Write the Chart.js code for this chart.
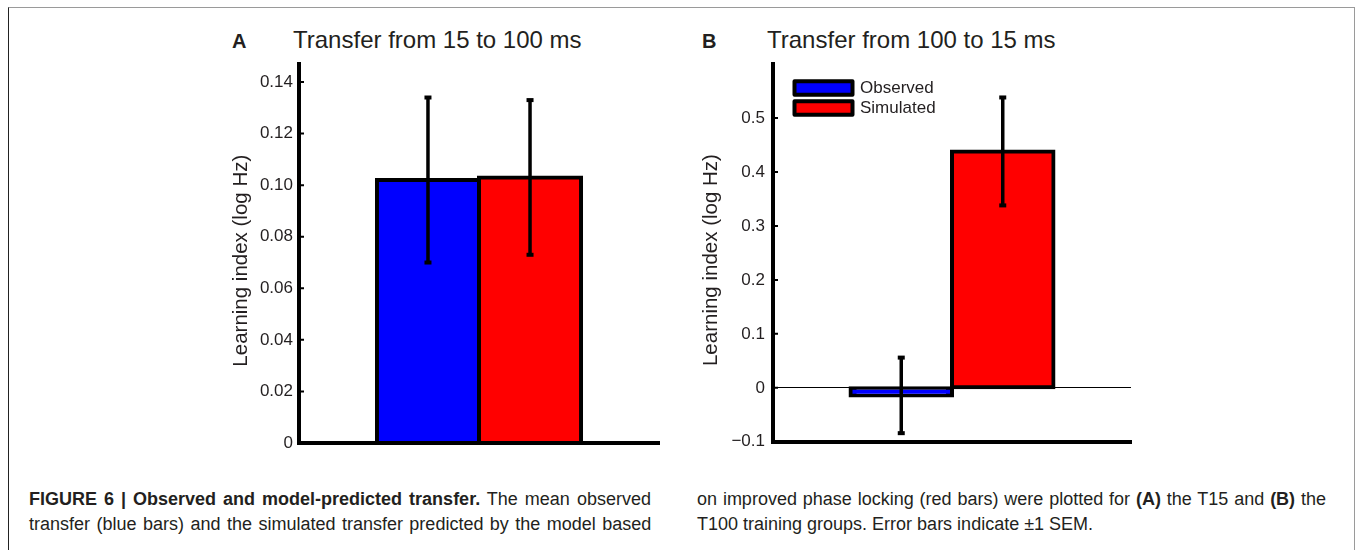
<!DOCTYPE html>
<html>
<head>
<meta charset="utf-8">
<script src="https://cdn.jsdelivr.net/npm/chart.js@4"></script>
<style>
  html, body { margin: 0; padding: 0; background: #fff; }
  body { width: 1355px; height: 550px; position: relative; overflow: hidden;
         font-family: 'Liberation Sans', Arial, sans-serif; color: #231f20; }
  .frame { position: absolute; left: 8px; top: 7px; width: 1345px; height: 600px;
           border-top: 1px solid #9a9a9a; border-right: 1px solid #9a9a9a; border-left: 1px solid #222; }
  .panel { position: absolute; top: 0; }
  .letter { position: absolute; font-weight: bold; font-size: 20px; line-height: 1; }
  .ptitle { position: absolute; font-size: 24px; line-height: 1; white-space: nowrap; }
  .cap { position: absolute; font-size: 18px; line-height: 1; white-space: nowrap; }
</style>
</head>
<body>
<div class="frame"></div>

<div class="letter" style="left:232px; top:31px;">A</div>
<div class="ptitle" style="left:293px; top:28px;">Transfer from 15 to 100 ms</div>
<div class="letter" style="left:702px; top:31px;">B</div>
<div class="ptitle" style="left:767px; top:28px;">Transfer from 100 to 15 ms</div>

<canvas id="chartA" class="panel" style="left:0px;" width="680" height="460"></canvas>
<canvas id="chartB" class="panel" style="left:680px;" width="675" height="460"></canvas>

<div class="cap" data-w="622" style="left:29px; top:490px;"><b>FIGURE 6 | Observed and model-predicted transfer.</b> The mean observed</div>
<div class="cap" data-w="622" style="left:29px; top:515px;">transfer (blue bars) and the simulated transfer predicted by the model based</div>
<div class="cap" data-w="629" style="left:697px; top:490px;">on improved phase locking (red bars) were plotted for <b>(A)</b> the T15 and <b>(B)</b> the</div>
<div class="cap" style="left:697px; top:515px;">T100 training groups. Error bars indicate ±1 SEM.</div>

<script>
// data
const categories = ['Transfer'];
const seriesNames = ['Observed', 'Simulated'];
const seriesColors = ['#0000ff', '#ff0000'];

const meanA = [0.102, 0.103];
const semA = [0.032, 0.030];
const meanB = [-0.014, 0.438];
const semB = [0.070, 0.100];

const ticksA = [0, 0.02, 0.04, 0.06, 0.08, 0.10, 0.12, 0.14];
const tickLabelsA = ['0', '0.02', '0.04', '0.06', '0.08', '0.10', '0.12', '0.14'];
const ticksB = [-0.1, 0, 0.1, 0.2, 0.3, 0.4, 0.5];
const tickLabelsB = ['\u22120.1', '0', '0.1', '0.2', '0.3', '0.4', '0.5'];

const rangeA = [0, 0.147];
const rangeB = [-0.1, 0.6];

Chart.defaults.font.family = "'Liberation Sans', Arial, sans-serif";
Chart.defaults.color = '#231f20';

// +-1 SEM whiskers with small square caps
const errorBars = {
    id: 'errorBars',
    afterDatasetsDraw(chart, args, opts) {
        const ctx = chart.ctx;
        const y = chart.scales.y;
        ctx.save();
        ctx.strokeStyle = '#000';
        ctx.fillStyle = '#000';
        ctx.lineWidth = 3.5;
        opts.sem.forEach((e, i) => {
            const bar = chart.getDatasetMeta(i).data[0];
            const m = chart.data.datasets[i].data[0];
            const top = y.getPixelForValue(m + e);
            const bot = y.getPixelForValue(m - e);
            ctx.beginPath();
            ctx.moveTo(bar.x, top);
            ctx.lineTo(bar.x, bot);
            ctx.stroke();
            ctx.fillRect(bar.x - 3.5, top - 2, 7, 4);
            ctx.fillRect(bar.x - 3.5, bot - 2, 7, 4);
        });
        ctx.restore();
    }
};

// matlab style ticks pointing into the axes
const innerTicks = {
    id: 'innerTicks',
    afterDraw(chart) {
        const ctx = chart.ctx;
        const y = chart.scales.y;
        const x0 = chart.chartArea.left;
        ctx.save();
        ctx.strokeStyle = '#000';
        ctx.lineWidth = 2;
        ctx.beginPath();
        y.ticks.forEach(t => {
            const py = y.getPixelForValue(t.value);
            ctx.moveTo(x0, py);
            ctx.lineTo(x0 + 5, py);
        });
        ctx.stroke();
        ctx.restore();
    }
};

// stacked legend boxes in the top left of the axes
const boxLegend = {
    id: 'boxLegend',
    afterDraw(chart, args, opts) {
        if (!opts.display) return;
        const ctx = chart.ctx;
        const area = chart.chartArea;
        ctx.save();
        chart.data.datasets.forEach((ds, i) => {
            const bx = area.left + 21.5;
            const by = area.top + 17.3 + i * 20;
            ctx.lineJoin = 'round';
            ctx.lineWidth = 4;
            ctx.strokeStyle = '#000';
            ctx.fillStyle = ds.backgroundColor;
            ctx.beginPath();
            ctx.rect(bx, by, 58, 13.5);
            ctx.fill();
            ctx.stroke();
            ctx.fillStyle = '#231f20';
            ctx.font = "17px 'Liberation Sans', Arial, sans-serif";
            ctx.textBaseline = 'middle';
            ctx.fillText(ds.label, area.left + 87, by + 7);
        });
        ctx.restore();
    }
};

function makeChart(id, means, sems, range, ticks, labels, padLeft, axisW, padRight, tickPad, showLegend) {
    const hasNeg = range[0] < 0;
    return new Chart(document.getElementById(id), {
        type: 'bar',
        data: {
            labels: categories,
            datasets: seriesNames.map((name, i) => ({
                label: name,
                data: [means[i]],
                backgroundColor: seriesColors[i],
                borderColor: '#000',
                borderWidth: 4,
                borderSkipped: false,
                inflateAmount: 2
            }))
        },
        options: {
            responsive: false,
            animation: false,
            events: [],
            layout: { padding: { left: padLeft, right: padRight, top: 64, bottom: 0 } },
            datasets: { bar: { categoryPercentage: 0.567, barPercentage: 1 } },
            scales: {
                x: {
                    grid: { display: false },
                    ticks: { display: false },
                    border: { display: true, color: '#000', width: 4 },
                    afterFit: s => { s.height = 17; }
                },
                y: {
                    min: range[0],
                    max: range[1],
                    afterBuildTicks: s => { s.ticks = ticks.map(v => ({ value: v })); },
                    ticks: {
                        callback: (v, i) => labels[i],
                        font: { size: 17 },
                        color: '#231f20',
                        padding: tickPad
                    },
                    grid: {
                        display: hasNeg,
                        drawTicks: false,
                        lineWidth: 1,
                        color: c => (c.tick && c.tick.value === 0) ? '#000' : 'rgba(0,0,0,0)'
                    },
                    border: { color: '#000', width: 4 },
                    title: {
                        display: true,
                        // trailing spaces nudge the rotated label down a little
                        text: 'Learning index (log Hz)\u2002\u2009',
                        font: { size: 20.5 },
                        color: '#231f20'
                    },
                    afterFit: s => { s.width = axisW; }
                }
            },
            plugins: {
                legend: { display: false },
                tooltip: { enabled: false },
                errorBars: { sem: sems },
                boxLegend: { display: showLegend }
            }
        },
        plugins: [errorBars, innerTicks, boxLegend]
    });
}

makeChart('chartA', meanA, semA, rangeA, ticksA, tickLabelsA, 225, 74, 21, 6, false);
makeChart('chartB', meanB, semB, rangeB, ticksB, tickLabelsB, 15, 78, 224, 8, true);

// stretch full caption lines to the column width
document.querySelectorAll('.cap[data-w]').forEach(el => {
    const target = +el.dataset.w;
    const spaces = (el.textContent.match(/ /g) || []).length;
    const natural = el.offsetWidth;
    el.style.wordSpacing = ((target - natural) / spaces) + 'px';
});
</script>
</body>
</html>
